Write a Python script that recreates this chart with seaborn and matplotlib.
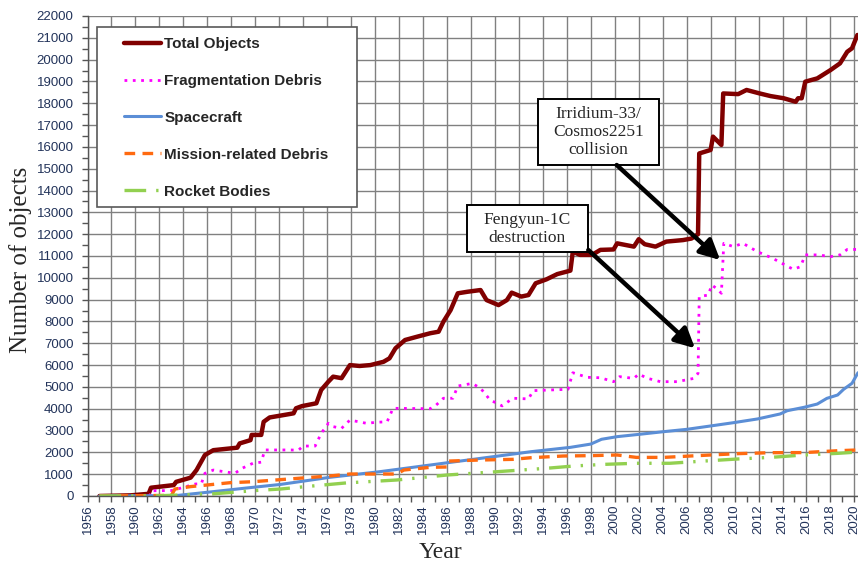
import numpy as np
import pandas as pd
import matplotlib
matplotlib.use("Agg")
import matplotlib.pyplot as plt
import seaborn as sns
from matplotlib.patches import Rectangle
from matplotlib.ticker import MultipleLocator

# ---- catalogued objects in orbit, by source ----
tot_year = [1957.0, 1959.6, 1961.1, 1961.3, 1963.2, 1963.4, 1964.6, 1965.1, 1965.8, 1966.5,
            1968.5, 1968.7, 1969.6, 1969.7, 1970.5, 1970.7, 1971.2, 1972.9, 1973.2, 1973.4,
            1973.9, 1975.1, 1975.5, 1976.1, 1976.5, 1977.2, 1977.9, 1978.7, 1979.6, 1980.7,
            1981.2, 1981.7, 1982.5, 1983.5, 1984.6, 1985.3, 1985.7, 1986.3, 1986.9, 1987.7,
            1988.8, 1989.3, 1990.3, 1991.0, 1991.4, 1992.2, 1992.8, 1993.4, 1994.3, 1995.2,
            1996.3, 1996.5, 1997.1, 1998.1, 1998.8, 1999.9, 2000.2, 2001.6, 2002.0, 2002.5,
            2003.4, 2004.3, 2005.7, 2006.4, 2006.95, 2007.05, 2008.0, 2008.2, 2008.9, 2009.05,
            2010.3, 2011.0, 2012.1, 2013.0, 2014.1, 2015.1, 2015.3, 2015.6, 2015.9, 2016.9,
            2018.0, 2018.8, 2019.4, 2019.8, 2020.25]
tot_val = [0, 30, 100, 380, 500, 650, 840, 1190, 1880, 2100,
           2215, 2410, 2560, 2800, 2800, 3400, 3600, 3760, 3790, 4020,
           4120, 4250, 4860, 5240, 5470, 5400, 6000, 5960, 6000, 6150,
           6310, 6770, 7150, 7300, 7460, 7530, 7990, 8520, 9290, 9360,
           9440, 8980, 8750, 8980, 9320, 9140, 9210, 9750, 9930, 10170,
           10330, 11200, 11050, 11050, 11280, 11300, 11580, 11430, 11770, 11540,
           11430, 11660, 11730, 11800, 12000, 15700, 15860, 16470, 16090, 18450,
           18420, 18610, 18450, 18330, 18230, 18070, 18230, 18230, 18990, 19140,
           19520, 19830, 20360, 20520, 21130]

frag_year = [1957.0, 1961.2, 1961.3, 1963.0, 1963.7, 1965.0, 1965.5, 1965.8, 1966.5, 1968.3,
             1968.9, 1969.8, 1970.5, 1970.8, 1972.9, 1973.6, 1974.0, 1975.0, 1975.5, 1976.1,
             1976.5, 1977.2, 1977.9, 1979.3, 1980.1, 1981.0, 1981.5, 1984.6, 1985.1, 1985.7,
             1986.5, 1986.9, 1988.1, 1988.8, 1989.6, 1990.6, 1991.5, 1992.8, 1993.2, 1996.1,
             1996.5, 1997.7, 1998.8, 1999.9, 2000.4, 2001.6, 2002.0, 2002.7, 2003.8, 2005.2,
             2006.6, 2006.95, 2007.05, 2007.8, 2008.1, 2008.5, 2008.9, 2009.1, 2009.9, 2010.7,
             2011.9, 2013.2, 2014.2, 2014.9, 2015.5, 2015.9, 2017.0, 2018.0, 2018.8, 2019.4,
             2020.25]
frag_val = [0, 0, 240, 250, 350, 550, 560, 1040, 1190, 1040,
            1270, 1500, 1550, 2110, 2110, 2100, 2290, 2290, 2870, 3330,
            3180, 3100, 3480, 3330, 3380, 3400, 4020, 4000, 4170, 4480,
            4480, 5040, 5160, 4940, 4400, 4130, 4480, 4450, 4830, 4890,
            5650, 5440, 5420, 5240, 5470, 5390, 5590, 5400, 5240, 5240,
            5390, 5620, 9140, 9210, 9670, 9510, 9290, 11580, 11430, 11580,
            11200, 10890, 10590, 10390, 10510, 11050, 11050, 10970, 11050, 11300,
            11300]

sc_year = [1957.0, 1963.4, 1966.5, 1969.5, 1972.1, 1976.2, 1980.4, 1984.6, 1988.8, 1993.0,
           1996.3, 1998.0, 1998.9, 2000.2, 2002.1, 2004.1, 2006.0, 2008.0, 2009.9, 2011.9,
           2013.8, 2014.4, 2015.8, 2016.9, 2017.7, 2018.6, 2019.1, 2019.8, 2020.3]
sc_val = [0, 20, 200, 380, 530, 855, 1115, 1420, 1725, 2030,
          2230, 2380, 2600, 2720, 2830, 2950, 3055, 3210, 3360, 3530,
          3760, 3910, 4065, 4215, 4475, 4630, 4890, 5165, 5650]

mr_year = [1957.0, 1963.0, 1963.3, 1964.6, 1965.9, 1967.9, 1969.8, 1972.1, 1976.2, 1977.9,
           1981.8, 1982.4, 1984.6, 1986.0, 1986.1, 1988.8, 1991.5, 1993.0, 1995.7, 1998.0,
           2000.2, 2001.8, 2004.1, 2006.3, 2008.0, 2010.2, 2013.0, 2015.8, 2018.6, 2020.3]
mr_val = [0, 30, 320, 430, 500, 610, 655, 750, 917, 1008,
          1008, 1190, 1315, 1330, 1600, 1650, 1680, 1755, 1833, 1850,
          1880, 1770, 1770, 1833, 1880, 1940, 1985, 1990, 2075, 2110]

rb_year = [1957.0, 1962.0, 1963.8, 1966.5, 1970.0, 1972.1, 1974.0, 1977.6, 1981.8, 1986.0,
           1990.2, 1994.3, 1996.6, 1999.1, 2001.8, 2004.6, 2007.4, 2010.2, 2013.0, 2015.8,
           2018.6, 2020.3]
rb_val = [0, 10, 50, 100, 250, 320, 420, 600, 733, 962,
          1115, 1270, 1375, 1450, 1500, 1500, 1600, 1695, 1770, 1880,
          1955, 2015]

year_ticks = list(range(1956, 2021, 2))
count_ticks = list(range(0, 22001, 1000))

sns.set_style("white")
plt.rcParams["font.family"] = ["Liberation Sans", "DejaVu Sans"]

W, H = 858, 569
fig = plt.figure(figsize=(W / 100, H / 100), dpi=100)
ax = fig.add_axes([87.5 / W, 73 / H, 770.5 / W, 480 / H])

styles = [
    ("Total Objects", tot_year, tot_val,
     dict(color="#800000", linewidth=3.2, linestyle="-")),
    ("Fragmentation Debris", frag_year, frag_val,
     dict(color="#FF00FF", linewidth=2.0, linestyle=(0, (1, 2)))),
    ("Spacecraft", sc_year, sc_val,
     dict(color="#5B8ED6", linewidth=2.2, linestyle="-")),
    ("Mission-related Debris", mr_year, mr_val,
     dict(color="#FF6A10", linewidth=2.4, linestyle=(0, (3.2, 2.2)))),
    ("Rocket Bodies", rb_year, rb_val,
     dict(color="#92D050", linewidth=2.4, linestyle=(0, (6.5, 3, 0.7, 3, 0.7, 3)))),
]

for name, xs, ys, kw in styles:
    df = pd.DataFrame({"Year": xs, "Objects": ys})
    sns.lineplot(data=df, x="Year", y="Objects", ax=ax, label=name,
                 estimator=None, sort=False, **kw)

ax.set_xlim(1956, 2020.3)
ax.set_ylim(0, 22000)
ax.set_xticks(year_ticks)
ax.set_xticklabels([str(y) for y in year_ticks])
ax.xaxis.set_minor_locator(MultipleLocator(1))
ax.set_yticks(count_ticks)
ax.set_yticklabels([str(v) for v in count_ticks])
ax.yaxis.set_minor_locator(MultipleLocator(500))

ax.grid(True, which="major", color="#808080", linewidth=1.0)
ax.set_axisbelow(True)
for side in ("top", "right"):
    ax.spines[side].set_visible(False)
for side in ("left", "bottom"):
    ax.spines[side].set_color("#555555")
    ax.spines[side].set_linewidth(1.0)

tick_col = "#22335a"
ax.tick_params(axis="both", which="both", direction="out", left=True, bottom=True,
               length=4, width=1, color="#555555", labelsize=9.5, labelcolor=tick_col)
ax.tick_params(axis="x", which="major", labelrotation=90, pad=2)
ax.tick_params(axis="y", which="major", pad=6)
ax.set_xlabel("")
ax.set_ylabel("")

fig.text(440 / W, 1 - 552 / H, "Year", ha="center", va="center",
         family="Liberation Serif", fontsize=17)
fig.text(21 / W, 1 - 260 / H, "Number of objects", ha="center", va="center",
         rotation=90, family="Liberation Serif", fontsize=18)

# legend with a wide frame
frame = Rectangle((97 / W, 1 - 207 / H), 260 / W, 180 / H, transform=fig.transFigure,
                  facecolor="white", edgecolor="#595959", linewidth=1.2,
                  clip_on=False, zorder=4.8)
ax.add_patch(frame)
handles, labels = ax.get_legend_handles_labels()
leg = ax.legend(handles, labels, loc="upper left",
                bbox_to_anchor=(124 / W, 1 - 37 / H), bbox_transform=fig.transFigure,
                frameon=False, prop=dict(family="Liberation Sans", weight="bold", size=11),
                handlelength=2.4, handletextpad=0.25, labelspacing=1.5,
                borderpad=0, borderaxespad=0)
leg.set_zorder(5)


def callout(x0, y0, x1, y1, text):
    ax0 = (x0 - 87.5) / 770.5
    ax1 = (x1 - 87.5) / 770.5
    ay0 = (496 - y1) / 480
    ay1 = (496 - y0) / 480
    ax.add_patch(Rectangle((ax0, ay0), ax1 - ax0, ay1 - ay0, transform=ax.transAxes,
                           facecolor="white", edgecolor="black", linewidth=1.4,
                           clip_on=False, zorder=6))
    ax.text((ax0 + ax1) / 2, (ay0 + ay1) / 2, text, transform=ax.transAxes,
            ha="center", va="center", family="Liberation Serif", fontsize=12.5,
            linespacing=1.15, zorder=7)


callout(537.7, 99.3, 659.3, 165.0, "Irridium-33/\nCosmos2251\ncollision")
callout(466.7, 205.0, 587.7, 252.3, "Fengyun-1C\ndestruction")

arrow_kw = dict(arrowstyle="-|>,head_length=0.6,head_width=0.3", color="black",
                lw=3.2, shrinkA=0, shrinkB=0, mutation_scale=20)
ax.annotate("", xy=(2008.8, 10815), xycoords="data",
            xytext=((616.7 - 87.5) / 770.5, (496 - 165) / 480), textcoords="axes fraction",
            arrowprops=arrow_kw, zorder=7)
ax.annotate("", xy=(2006.7, 6770), xycoords="data",
            xytext=((588.3 - 87.5) / 770.5, (496 - 250) / 480), textcoords="axes fraction",
            arrowprops=arrow_kw, zorder=7)

fig.savefig("out.png", dpi=100)
